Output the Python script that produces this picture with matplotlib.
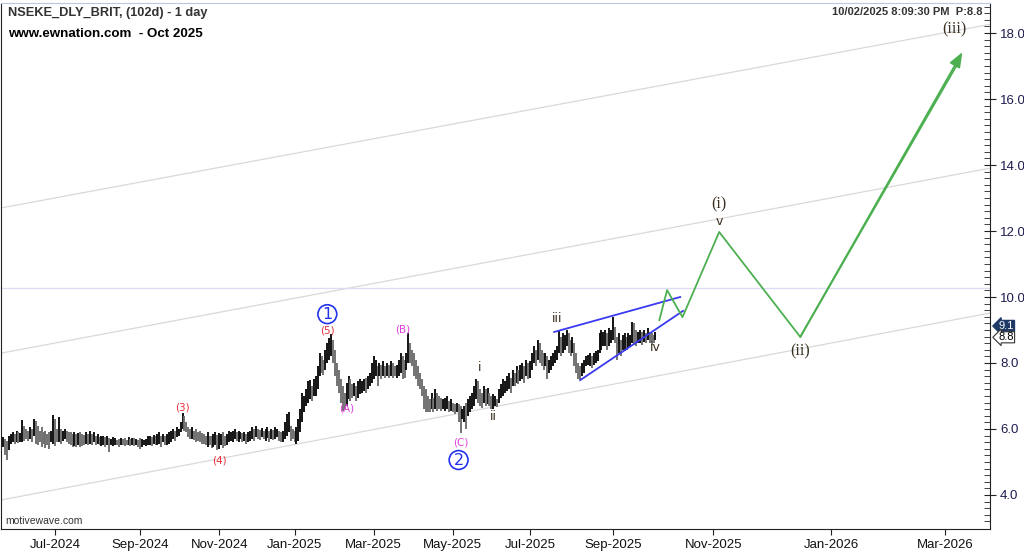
import matplotlib
matplotlib.use("Agg")
import matplotlib.pyplot as plt
import numpy as np
import pandas as pd

# daily bars (high / low), one per trading day, last bar = 10/02/2025
bar_high = [
    5.75, 5.7, 5.65, 5.8, 5.85, 5.9, 5.85, 5.95, 5.9, 5.88,
    6.27, 6.1, 6.0, 5.95, 6.05, 6.0, 6.3, 6.25, 6.1, 5.95,
    6.05, 5.9, 5.95, 5.85, 5.9, 5.95, 6.42, 6.3, 6.0, 6.35,
    6.0, 5.95, 6.0, 5.95, 5.9, 5.92, 5.85, 5.9, 5.85, 5.88,
    5.9, 5.85, 5.82, 5.9, 5.85, 5.95, 5.85, 5.9, 5.8, 5.85,
    5.75, 5.8, 5.78, 5.75, 5.8, 5.72, 5.7, 5.75, 5.72, 5.68,
    5.7, 5.74, 5.7, 5.72, 5.68, 5.75, 5.7, 5.74, 5.72, 5.7,
    5.68, 5.72, 5.7, 5.68, 5.7, 5.78, 5.8, 5.75, 5.82, 5.8,
    5.85, 5.9, 5.8, 5.85, 5.78,
    5.85, 5.9, 5.95, 6.0, 5.95, 6.05, 6.0, 6.2, 6.48, 6.4,
    6.2, 6.07, 6.0, 6.05, 5.95, 6.0, 5.92, 5.95, 5.88, 5.85,
    5.8, 5.9, 5.78, 5.8, 5.85, 5.9, 5.82, 5.88, 5.85, 5.9,
    5.8, 5.85, 5.95, 5.9, 5.95, 6.0, 5.92, 5.95, 5.9, 5.88,
    5.92, 5.85, 5.9, 5.95, 6.05, 6.0, 6.1, 6.0, 5.98, 6.02,
    5.95, 6.0, 6.05, 5.95, 6.0, 5.98, 6.05, 6.0, 5.95, 5.9,
    5.95, 6.2, 6.45, 6.5, 6.1, 6.0, 5.95, 6.05, 6.3, 6.6,
    7.1, 7.0, 7.2, 7.45, 7.48, 7.3, 7.5, 7.6, 7.9, 8.3,
    8.2, 8.1, 8.4, 8.6, 8.75, 8.88,
    8.7, 8.4, 8.0, 7.8, 7.5, 7.3, 7.1, 7.4, 7.6, 7.5,
    7.35, 7.4, 7.3, 7.45, 7.5, 7.45, 7.5, 7.55, 7.6, 7.7,
    8.0, 8.2, 8.1, 7.9, 8.0, 7.95, 8.05, 7.9, 8.0, 7.95,
    8.05, 8.0, 7.9, 7.95, 8.1, 8.3, 8.2, 8.1, 8.3, 8.9,
    8.6, 8.4, 8.3, 8.1, 7.9, 7.7, 7.5, 7.3, 7.2, 7.0,
    6.9, 7.1, 6.95, 7.2, 7.1, 7.0, 6.95, 6.9, 6.95, 7.0,
    6.85, 6.9, 6.8, 6.75, 6.8, 6.75, 6.7, 6.6, 6.7, 6.8,
    6.9, 7.0, 7.1, 7.3, 7.5, 7.45, 7.2, 7.1, 7.3, 7.2,
    7.25, 7.1, 7.0, 7.05,
    7.0, 6.9, 7.2, 7.35, 7.5, 7.45, 7.6, 7.7, 7.55, 7.8,
    7.7, 7.9, 7.8, 7.95, 8.0, 7.9, 8.1, 8.0, 8.05, 8.3,
    8.5, 8.4, 8.7, 8.6, 8.4, 8.3, 8.3, 8.2, 8.1, 8.2,
    8.3, 8.4, 8.5, 9.0, 8.8, 8.9, 8.85, 9.0, 8.9, 8.7,
    8.8, 8.6, 8.3, 8.0, 7.9, 8.0, 8.1, 8.2, 8.25, 8.3,
    8.2, 8.3, 8.35, 8.4, 8.9, 9.0, 8.95, 9.0, 8.9, 9.05,
    9.0, 9.4, 9.1, 8.8, 8.9, 8.7, 8.85, 8.9, 8.8, 8.9,
    8.85, 9.25, 9.2, 9.0, 8.95, 9.0, 8.95, 9.0, 8.9, 9.05,
    8.95, 8.9, 8.85, 8.95,
]
bar_low = [
    5.45, 5.2, 5.06, 5.35, 5.55, 5.6, 5.55, 5.6, 5.58, 5.6,
    5.6, 5.65, 5.7, 5.65, 5.7, 5.62, 5.8, 5.55, 5.5, 5.6,
    5.45, 5.55, 5.42, 5.5, 5.4, 5.6, 5.55, 5.48, 5.6, 5.6,
    5.55, 5.65, 5.7, 5.6, 5.55, 5.5, 5.46, 5.48, 5.45, 5.5,
    5.46, 5.48, 5.5, 5.55, 5.5, 5.55, 5.5, 5.6, 5.5, 5.55,
    5.5, 5.48, 5.52, 5.45, 5.5, 5.3, 5.5, 5.48, 5.52, 5.5,
    5.46, 5.5, 5.52, 5.48, 5.5, 5.52, 5.47, 5.5, 5.48, 5.52,
    5.46, 5.4, 5.45, 5.5, 5.48, 5.5, 5.52, 5.48, 5.55, 5.5,
    5.5, 5.55, 5.45, 5.6, 5.5,
    5.5, 5.55, 5.6, 5.7, 5.65, 5.75, 5.8, 5.9, 6.0, 5.95,
    5.9, 5.75, 5.7, 5.7, 5.68, 5.62, 5.65, 5.6, 5.55, 5.55,
    5.5, 5.45, 5.5, 5.42, 5.45, 5.5, 5.36, 5.4, 5.5, 5.42,
    5.48, 5.5, 5.6, 5.65, 5.6, 5.7, 5.65, 5.62, 5.7, 5.6,
    5.65, 5.55, 5.6, 5.65, 5.7, 5.65, 5.75, 5.7, 5.68, 5.75,
    5.7, 5.65, 5.72, 5.6, 5.7, 5.68, 5.7, 5.75, 5.65, 5.6,
    5.62, 5.7, 5.8, 5.9, 5.65, 5.7, 5.6, 5.55, 5.65, 5.9,
    6.2, 6.5, 6.7, 6.8, 6.9, 6.85, 7.0, 7.0, 7.2, 7.6,
    7.7, 7.65, 7.8, 8.0, 8.1, 8.2,
    8.0, 7.6, 7.3, 7.1, 6.8, 6.55, 6.6, 6.7, 6.9, 6.85,
    6.95, 7.0, 6.85, 6.95, 7.05, 7.1, 7.15, 7.1, 7.2, 7.3,
    7.4, 7.5, 7.6, 7.3, 7.6, 7.5, 7.6, 7.55, 7.6, 7.55,
    7.6, 7.55, 7.6, 7.55, 7.6, 7.7, 7.5, 7.55, 7.8, 8.0,
    8.0, 7.9, 7.6, 7.5, 7.3, 7.2, 7.0, 6.6, 6.5, 6.5,
    6.5, 6.6, 6.5, 6.6, 6.55, 6.6, 6.55, 6.6, 6.55, 6.6,
    6.5, 6.55, 6.5, 6.45, 6.5, 6.2, 5.88, 6.3, 6.2, 6.0,
    6.4, 6.5, 6.6, 6.7, 6.9, 6.8, 6.7, 6.65, 6.8, 6.7,
    6.75, 6.7, 6.6, 6.6,
    6.7, 6.67, 6.8, 6.95, 7.0, 7.1, 7.15, 7.2, 7.1, 7.3,
    7.3, 7.4, 7.35, 7.45, 7.5, 7.4, 7.6, 7.5, 7.55, 7.8,
    8.0, 7.9, 8.1, 8.0, 7.9, 7.8, 7.9, 7.5, 7.7, 7.8,
    7.9, 8.0, 8.1, 8.3, 8.2, 8.3, 8.4, 8.5, 8.3, 8.2,
    8.3, 7.9, 7.7, 7.5, 7.48, 7.6, 7.7, 7.9, 7.95, 7.9,
    7.85, 7.95, 8.0, 8.05, 8.3, 8.4, 8.5, 8.5, 8.4, 8.5,
    8.6, 8.7, 8.6, 8.1, 8.3, 8.2, 8.4, 8.35, 8.4, 8.45,
    8.5, 8.6, 8.55, 8.5, 8.6, 8.6, 8.55, 8.65, 8.6, 8.7,
    8.6, 8.55, 8.6, 8.7,
]

# month ticks on the trading-day part (bar index of first bar of the month)
hist_month_labels = ["Jul-2024", "Sep-2024", "Nov-2024", "Jan-2025", "Mar-2025",
                     "May-2025", "Jul-2025", "Sep-2025"]
hist_month_bar = [27, 71, 112, 151, 192, 233, 273, 316]
last_bar_date = "2025-10-02"
future_month_dates = ["2025-11-01", "2026-01-01", "2026-03-01"]

# projected path (calendar days after last bar, price)
proj_days = [2, 6, 14, 33, 75, 159]
proj_price = [9.3, 10.21, 9.39, 11.97, 8.79, 17.42]

# wedge lines (bar index, price)
wedge_upper_x = [285.5, 350.8]
wedge_upper_y = [8.94, 10.0]
wedge_lower_x = [299, 352.3]
wedge_lower_y = [7.48, 9.58]

# parallel channel lines: price at bar 0 and bar 500
channel_at_0 = [3.86, 8.31, 12.71]
channel_at_500 = [9.39, 13.78, 18.14]
hline_level = 10.27

last_price = 8.8
tag_price = 9.1

# ---------------------------------------------------------------------------
hi = np.array(bar_high)
lo = np.array(bar_low)
n = len(hi)
xb = np.arange(n)
last_x = n - 1
mid = (hi + lo) / 2
up = np.r_[True, mid[1:] >= mid[:-1]]
cols = np.where(up, "#0a0a0a", "#6c6c6c")

last_dt = pd.Timestamp(last_bar_date)
fut_x = [last_x + (pd.Timestamp(d) - last_dt).days for d in future_month_dates]
fut_lab = [pd.Timestamp(d).strftime("%b-%Y") for d in future_month_dates]

fig = plt.figure(figsize=(10.24, 5.52), dpi=100)
ax = fig.add_axes([0.001, 0.0417, 0.966, 0.9529])

for a, b in zip(channel_at_0, channel_at_500):
    ax.axline((0, a), (500, b), color="#d9d9d9", lw=0.9, zorder=1)
ax.axhline(hline_level, color="#dcdcf4", lw=0.9, zorder=1)

ax.vlines(xb, lo, hi, colors=cols, lw=1.35, zorder=3)

ax.plot(wedge_upper_x, wedge_upper_y, color="#3a3af0", lw=1.3, zorder=4)
ax.plot(wedge_lower_x, wedge_lower_y, color="#3a3af0", lw=1.3, zorder=4)

px = [last_x + d for d in proj_days]
ax.plot(px[:-1] + [px[-1] - 2], proj_price[:-1] + [proj_price[-1] - 0.3],
        color="#4cb050", lw=1.3, zorder=4)
ax.annotate("", xy=(px[-1], proj_price[-1]), xytext=(px[-2], proj_price[-2]),
            arrowprops=dict(arrowstyle="-|>,head_length=0.9,head_width=0.35",
                            color="#4cb050", lw=1.3, shrinkA=0, shrinkB=0), zorder=4)

# wave labels
red = "#e8303a"
mag = "#e040e0"
dark = "#3a3020"
blue = "#2233ee"
lab = dict(ha="center", va="center", zorder=6)
ax.text(93, 6.65, "(3)", color=red, fontsize=7.5, **lab)
ax.text(112, 5.05, "(4)", color=red, fontsize=7.5, **lab)
ax.text(168, 8.98, "(5)", color=red, fontsize=7.5, **lab)
ax.text(178, 6.62, "(A)", color=mag, fontsize=7.5, **lab)
ax.text(207, 9.02, "(B)", color=mag, fontsize=7.5, **lab)
ax.text(237, 5.59, "(C)", color=mag, fontsize=7.5, **lab)
ax.text(168, 9.48, "1", color=blue, fontsize=11.5,
        bbox=dict(boxstyle="circle,pad=0.12", fc="white", ec=blue, lw=1.2), **lab)
ax.text(236, 5.06, "2", color=blue, fontsize=11.5,
        bbox=dict(boxstyle="circle,pad=0.12", fc="white", ec=blue, lw=1.2), **lab)
ax.text(247, 7.87, "i", color=dark, fontsize=9, **lab)
ax.text(254, 6.39, "ii", color=dark, fontsize=9, **lab)
ax.text(287, 9.35, "iii", color=dark, fontsize=9, **lab)
ax.text(338, 8.46, "iv", color=dark, fontsize=9, **lab)
ax.text(px[3], 12.3, "v", color=dark, fontsize=9, **lab)
ax.text(px[3], 12.8, "(i)", color=dark, fontsize=11.5, family="Liberation Serif", **lab)
ax.text(px[4], 8.35, "(ii)", color=dark, fontsize=11.5, family="Liberation Serif", **lab)
ax.text(493, 18.1, "(iii)", color=dark, fontsize=11.5, family="Liberation Serif", **lab)

ax.set_xlim(-1.04, 511.4)
ax.set_ylim(2.97, 18.91)

ax.set_xticks(hist_month_bar + fut_x)
ax.set_xticklabels(hist_month_labels + fut_lab, family=["Liberation Sans Narrow", "Liberation Sans"],
                   fontsize=9.5, color="#111111")
ax.tick_params(axis="x", direction="out", length=4, pad=3, color="#222222")
ax.yaxis.tick_right()
ax.set_yticks(np.arange(4, 19, 2))
ax.set_yticklabels([f"{v:.1f}" for v in np.arange(4, 19, 2)], fontsize=9.5,
                   color="#1c1c50", family="Liberation Sans")
ax.set_yticks(np.arange(3.2, 18.9, 0.2), minor=True)
ax.tick_params(axis="y", which="major", direction="inout", length=8, pad=3, color="#222222")
ax.tick_params(axis="y", which="minor", direction="in", length=4, color="#222222")
ax.spines["top"].set_color("#b8c8e0")
ax.spines["left"].set_color("#222222")
ax.spines["bottom"].set_color("#222222")
ax.spines["right"].set_color("#222222")

# price tags
ax.annotate(f"{tag_price:.1f}", xy=(1.0, tag_price), xycoords=("axes fraction", "data"),
            xytext=(6, 0.5), textcoords="offset points", va="center", ha="left",
            fontsize=8, color="white", family="Liberation Sans",
            bbox=dict(boxstyle="larrow,pad=0.05", fc="#1f3a66", ec="#1f3a66"))
ax.annotate(f"{last_price:.1f}", xy=(1.0, last_price), xycoords=("axes fraction", "data"),
            xytext=(6, -0.5), textcoords="offset points", va="center", ha="left",
            fontsize=8, color="black", family="Liberation Sans",
            bbox=dict(boxstyle="larrow,pad=0.05", fc="white", ec="#333333", lw=0.8))

fig.text(8 / 1024, 1 - 13 / 552, "NSEKE_DLY_BRIT, (102d) - 1 day", fontsize=9.2,
         fontweight="bold", color="#333333", va="center", family="Liberation Sans")
fig.text(8 / 1024, 1 - 34 / 552, "www.ewnation.com  - Oct 2025", fontsize=9.6,
         fontweight="bold", color="black", va="center", family="Liberation Sans")
fig.text(982 / 1024, 1 - 12 / 552, f"10/02/2025 8:09:30 PM  P:{last_price}", fontsize=8,
         fontweight="bold", color="#333333", va="center", ha="right", family="Liberation Sans")
fig.text(5 / 1024, 1 - 521 / 552, "motivewave.com", fontsize=7.5, color="#333333",
         va="center", family="Liberation Sans")

fig.savefig("out.png", dpi=100)
